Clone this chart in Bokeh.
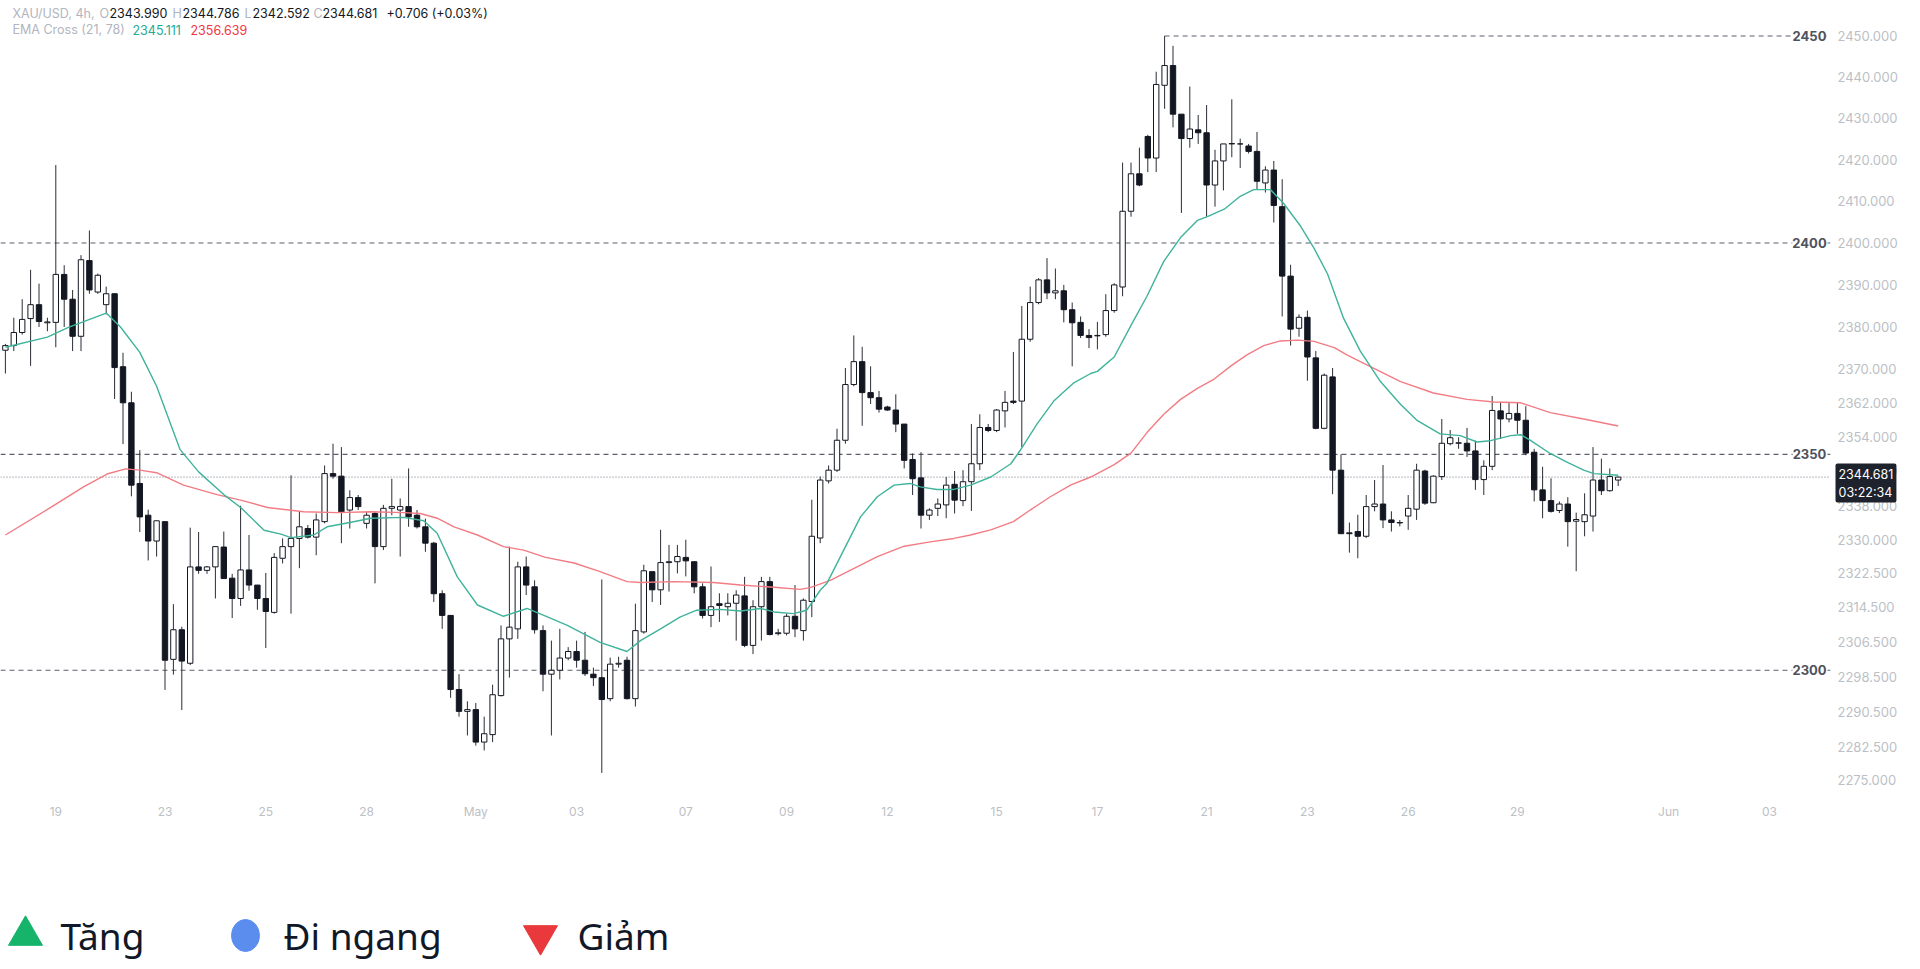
import math
from bokeh.plotting import figure
from bokeh.models import Range1d, FixedTicker, NumeralTickFormatter, Label, ColumnDataSource
from bokeh.layouts import column
from bokeh.embed import file_html
from bokeh.resources import INLINE
from bokeh.core.properties import value

# ---------------- data (XAU/USD 4h) ----------------
opens = [
    2374.5, 2375.6, 2378.7, 2382.0, 2385.3, 2381.0, 2381.1, 2392.5, 2386.6, 2377.8,
    2395.8, 2388.3, 2385.3, 2387.9, 2370.6, 2362.1, 2343.2, 2335.8, 2329.8, 2334.3,
    2302.5, 2309.3, 2301.6, 2323.8, 2323.0, 2323.8, 2328.4, 2321.2, 2316.5, 2323.1,
    2319.6, 2316.5, 2313.3, 2325.8, 2328.5, 2330.4, 2332.7, 2330.7, 2334.3, 2345.5,
    2344.9, 2337.0, 2339.9, 2333.9, 2336.2, 2328.5, 2337.4, 2337.0, 2337.8, 2335.8,
    2333.1, 2329.3, 2317.6, 2312.6, 2295.6, 2290.6, 2291.0, 2283.6, 2285.3, 2294.2,
    2307.2, 2309.5, 2323.8, 2319.2, 2309.1, 2299.1, 2300.0, 2302.8, 2304.3, 2302.3,
    2299.1, 2298.3, 2293.5, 2301.4, 2302.3, 2293.5, 2308.8, 2322.7, 2318.5, 2324.8,
    2325.0, 2326.0, 2325.0, 2319.2, 2312.6, 2315.3, 2314.6, 2315.4, 2317.1, 2305.7,
    2314.6, 2320.4, 2308.4, 2308.5, 2312.4, 2309.1, 2315.8, 2330.5, 2343.8, 2346.3,
    2353.3, 2366.4, 2371.8, 2364.5, 2363.3, 2361.1, 2360.4, 2357.1, 2348.8, 2344.5,
    2335.8, 2337.4, 2338.2, 2343.0, 2339.2, 2343.6, 2347.8, 2356.3, 2355.6, 2360.2,
    2362.5, 2362.5, 2377.1, 2385.8, 2391.2, 2388.1, 2388.6, 2384.1, 2381.1, 2378.0,
    2377.9, 2378.2, 2383.9, 2389.5, 2407.6, 2416.6, 2425.6, 2420.4, 2438.0, 2442.8,
    2431.0, 2425.1, 2427.2, 2426.5, 2413.9, 2419.7, 2423.8, 2423.8, 2423.3, 2422.0,
    2414.4, 2417.5, 2408.7, 2392.1, 2379.7, 2382.3, 2372.7, 2356.1, 2368.2, 2346.3,
    2331.7, 2332.0, 2330.9, 2337.8, 2338.4, 2334.7, 2334.1, 2335.6, 2337.2, 2346.1,
    2338.7, 2344.8, 2352.5, 2352.6, 2352.6, 2350.8, 2344.1, 2347.2, 2360.2, 2358.3,
    2359.6, 2358.0, 2350.5, 2341.7, 2339.2, 2336.9, 2338.4, 2334.4, 2334.3, 2335.6,
    2344.0, 2341.5, 2343.99,
]
highs = [
    2376.0, 2382.2, 2386.6, 2393.6, 2390.3, 2382.2, 2418.7, 2394.7, 2388.8, 2397.1,
    2403.0, 2392.7, 2389.6, 2388.0, 2373.9, 2364.7, 2351.0, 2337.1, 2334.5, 2334.3,
    2315.2, 2310.0, 2332.9, 2331.9, 2324.0, 2328.5, 2332.0, 2322.2, 2338.0, 2331.2,
    2319.6, 2322.4, 2327.0, 2330.4, 2345.1, 2336.6, 2333.5, 2336.2, 2347.4, 2352.5,
    2351.7, 2341.6, 2340.5, 2336.6, 2336.6, 2338.2, 2344.3, 2339.7, 2346.7, 2337.0,
    2335.0, 2329.6, 2318.4, 2312.6, 2299.1, 2292.9, 2292.5, 2289.4, 2296.7, 2310.3,
    2328.5, 2325.0, 2326.2, 2320.7, 2310.3, 2306.8, 2309.5, 2305.3, 2306.8, 2308.8,
    2300.6, 2320.9, 2302.9, 2303.1, 2303.1, 2315.3, 2324.3, 2322.7, 2332.4, 2328.9,
    2328.9, 2330.1, 2325.0, 2320.0, 2323.9, 2317.7, 2317.7, 2318.4, 2321.5, 2316.1,
    2321.5, 2321.5, 2309.5, 2313.0, 2319.6, 2316.5, 2339.4, 2344.8, 2347.4, 2356.0,
    2370.3, 2378.0, 2375.3, 2370.7, 2364.9, 2361.4, 2364.1, 2357.1, 2350.2, 2350.5,
    2337.4, 2339.7, 2344.7, 2346.1, 2346.3, 2357.1, 2359.4, 2357.1, 2360.6, 2364.9,
    2374.1, 2385.0, 2389.6, 2391.6, 2396.4, 2393.9, 2390.0, 2385.8, 2382.5, 2379.5,
    2381.2, 2387.8, 2390.4, 2419.3, 2419.3, 2422.9, 2426.0, 2441.3, 2450.0, 2447.6,
    2431.0, 2437.7, 2430.8, 2433.2, 2422.4, 2423.8, 2434.6, 2425.1, 2423.8, 2426.7,
    2418.4, 2419.7, 2415.3, 2394.8, 2383.0, 2383.9, 2374.3, 2369.0, 2370.3, 2350.0,
    2334.1, 2335.9, 2340.5, 2344.0, 2347.5, 2336.7, 2334.7, 2340.5, 2347.8, 2346.4,
    2345.1, 2358.3, 2355.7, 2354.0, 2356.2, 2353.2, 2348.6, 2363.7, 2362.3, 2362.3,
    2362.1, 2361.3, 2351.3, 2347.1, 2344.4, 2339.0, 2340.0, 2336.4, 2340.9, 2351.7,
    2349.0, 2346.7, 2344.786,
]
lows = [
    2369.0, 2374.3, 2378.2, 2370.8, 2380.0, 2379.0, 2375.2, 2380.0, 2374.3, 2374.3,
    2387.9, 2387.9, 2383.0, 2363.0, 2352.4, 2340.2, 2331.9, 2325.3, 2326.2, 2295.5,
    2299.0, 2290.9, 2301.2, 2322.2, 2322.2, 2316.5, 2321.1, 2312.0, 2314.8, 2318.3,
    2313.9, 2305.1, 2313.0, 2324.6, 2313.0, 2323.5, 2330.4, 2326.5, 2333.9, 2344.3,
    2329.3, 2332.7, 2337.0, 2332.7, 2320.0, 2327.7, 2335.8, 2326.2, 2333.1, 2332.7,
    2327.3, 2315.7, 2309.5, 2293.7, 2289.4, 2285.1, 2282.8, 2281.7, 2283.6, 2294.0,
    2298.3, 2307.2, 2317.3, 2308.4, 2295.2, 2285.1, 2297.9, 2302.3, 2300.6, 2298.7,
    2296.4, 2276.6, 2292.9, 2300.6, 2293.3, 2291.7, 2308.4, 2315.7, 2315.0, 2318.1,
    2322.3, 2321.6, 2317.7, 2311.9, 2309.9, 2311.1, 2312.6, 2306.8, 2305.3, 2303.7,
    2306.8, 2308.0, 2308.0, 2308.0, 2307.6, 2306.8, 2312.2, 2329.3, 2343.2, 2345.9,
    2352.5, 2366.0, 2356.7, 2361.8, 2359.8, 2360.2, 2355.2, 2346.7, 2340.5, 2332.7,
    2334.7, 2335.6, 2335.1, 2336.2, 2337.9, 2336.8, 2346.3, 2355.2, 2355.2, 2356.3,
    2361.8, 2351.7, 2376.5, 2385.4, 2386.6, 2386.6, 2381.1, 2370.7, 2377.4, 2375.0,
    2374.7, 2377.7, 2383.4, 2387.3, 2406.3, 2413.6, 2417.0, 2417.0, 2432.3, 2427.8,
    2407.2, 2422.9, 2423.8, 2406.3, 2408.7, 2412.6, 2420.6, 2418.0, 2421.5, 2412.8,
    2412.1, 2404.9, 2382.5, 2375.6, 2377.7, 2367.3, 2355.9, 2355.9, 2340.7, 2331.5,
    2327.1, 2325.8, 2330.5, 2336.7, 2332.8, 2332.0, 2333.2, 2332.4, 2334.7, 2338.2,
    2338.6, 2344.0, 2352.1, 2351.3, 2349.4, 2341.7, 2340.5, 2346.3, 2353.6, 2357.5,
    2354.8, 2349.8, 2339.0, 2335.1, 2336.4, 2336.3, 2328.5, 2322.8, 2330.9, 2332.0,
    2340.5, 2341.3, 2342.592,
]
closes = [
    2375.6, 2378.7, 2381.8, 2385.3, 2381.3, 2381.2, 2392.5, 2386.6, 2377.8, 2396.0,
    2388.8, 2392.3, 2387.9, 2370.4, 2362.1, 2342.8, 2335.4, 2329.8, 2334.5, 2302.3,
    2309.3, 2302.1, 2323.8, 2323.0, 2323.8, 2328.5, 2321.1, 2316.5, 2323.1, 2319.6,
    2316.5, 2313.5, 2326.0, 2328.5, 2330.4, 2333.1, 2330.7, 2334.7, 2345.5, 2344.9,
    2336.6, 2339.9, 2337.8, 2335.8, 2328.5, 2337.4, 2337.8, 2337.8, 2335.4, 2333.1,
    2329.3, 2317.6, 2312.6, 2295.6, 2290.6, 2291.0, 2283.6, 2285.5, 2294.4, 2307.2,
    2309.9, 2323.8, 2319.6, 2309.3, 2299.1, 2300.0, 2302.8, 2304.3, 2302.3, 2299.2,
    2298.3, 2293.3, 2301.4, 2301.6, 2293.5, 2309.1, 2322.9, 2318.5, 2324.8, 2325.0,
    2326.2, 2325.2, 2319.2, 2312.6, 2314.6, 2314.9, 2315.4, 2317.3, 2305.7, 2314.6,
    2320.4, 2308.2, 2308.6, 2312.4, 2309.5, 2316.1, 2330.9, 2344.0, 2346.3, 2353.3,
    2366.4, 2371.8, 2364.5, 2363.3, 2360.6, 2360.4, 2357.1, 2348.6, 2344.3, 2335.8,
    2337.0, 2338.4, 2342.8, 2339.3, 2343.6, 2347.8, 2356.3, 2355.6, 2360.4, 2362.2,
    2362.2, 2377.1, 2385.8, 2391.2, 2388.1, 2388.6, 2384.1, 2381.0, 2378.0, 2377.5,
    2378.0, 2383.9, 2390.0, 2407.6, 2416.6, 2413.9, 2420.4, 2438.2, 2442.8, 2431.0,
    2425.1, 2427.4, 2426.5, 2413.9, 2419.7, 2423.8, 2423.9, 2423.8, 2422.0, 2414.8,
    2417.5, 2409.0, 2392.1, 2379.5, 2382.3, 2372.9, 2356.1, 2368.6, 2346.3, 2331.5,
    2331.5, 2330.9, 2337.8, 2338.4, 2334.7, 2334.1, 2334.0, 2337.4, 2346.3, 2338.6,
    2344.9, 2352.6, 2353.9, 2352.7, 2350.8, 2344.1, 2347.2, 2360.3, 2358.3, 2359.6,
    2358.0, 2350.3, 2341.7, 2339.2, 2336.7, 2338.4, 2334.3, 2334.8, 2335.9, 2344.0,
    2341.5, 2344.8, 2344.681,
]

# EMA readings (bar position, value)
ema21_x = [0, 5, 7.5, 12, 13.7, 16, 18, 20.8, 23, 26, 28, 30.8, 32.8, 34, 36.7, 38.3, 41, 43.5,
           47.4, 49.8, 51.4, 53.8, 56.2, 59.3, 62.1, 64.1, 66.9, 70.8, 74, 75.6, 78, 80.3, 82.3,
           85.1, 87.5, 89.9, 91.5, 93.8, 95.4, 97, 97.8, 99.8, 101.8, 103.8, 105.8, 107.7, 108.9,
           110.9, 112.9, 114.9, 117.3, 119.7, 120.8, 122.8, 124.8, 127.2, 129.2, 130, 132, 134,
           135.9, 137.9, 139.9, 141.9, 143.1, 145.1, 147, 148.6, 150.6, 152.2, 154.2, 155.8,
           157.4, 159.3, 161.3, 163.7, 166.1, 168.1, 170.8, 173.2, 175.2, 176.8, 179.2, 180.4,
           181.6, 183.9, 185.9, 187.9, 189.1, 192]
ema21_y = [2375.2, 2377.6, 2379.9, 2383.3, 2380.0, 2374.0, 2366.0, 2351.1, 2345.9, 2340.6, 2337.6,
           2332.3, 2331.4, 2330.6, 2331.2, 2333.1, 2334.1, 2335.1, 2335.3, 2334.5, 2331.6, 2321.5,
           2315.0, 2312.4, 2314.2, 2312.6, 2310.3, 2306.4, 2304.3, 2306.8, 2309.5, 2312.2, 2313.8,
           2314.0, 2313.6, 2314.2, 2313.4, 2313.0, 2313.8, 2318.4, 2320.0, 2327.7, 2335.4, 2340.1,
           2342.8, 2343.2, 2342.4, 2341.8, 2341.8, 2342.8, 2344.7, 2347.8, 2350.9, 2357.1, 2362.5,
           2366.8, 2369.0, 2369.5, 2372.9, 2380.4, 2387.3, 2395.6, 2401.3, 2405.4, 2406.3, 2408.1,
           2411.2, 2412.8, 2412.8, 2409.4, 2404.0, 2398.7, 2392.6, 2382.1, 2374.3, 2367.1, 2361.7,
           2357.9, 2354.8, 2354.4, 2352.9, 2353.2, 2354.4, 2354.6, 2353.2, 2350.2, 2348.2, 2346.3,
           2345.5, 2345.111]
ema78_x = [0, 5.4, 9.3, 12.1, 14.3, 16, 18, 21.2, 25.2, 28, 31.2, 35.5, 39.5, 43.5, 47.4, 49.4,
           51.4, 53.4, 56.2, 59.3, 61.7, 64.3, 67.7, 70.8, 74, 75.6, 79.6, 84.3, 87.5, 91.5, 94.6,
           95.8, 98.2, 101.8, 103.8, 107, 110.1, 112.9, 114.9, 117.3, 120, 122, 124.4, 126.8,
           129.2, 132, 134, 135.9, 137.9, 139.9, 141.9, 143.9, 145.9, 147.8, 149.8, 151.8, 153.8,
           155.8, 158.2, 159.7, 161.3, 166.1, 170, 174, 177.2, 180.4, 181.6, 183.9, 187.9, 192]
ema78_y = [2331.2, 2337.6, 2342.4, 2345.4, 2346.6, 2346.3, 2345.7, 2342.8, 2340.6, 2339.3, 2337.6,
           2336.6, 2336.4, 2336.6, 2336.4, 2336.2, 2335.1, 2333.1, 2331.2, 2328.5, 2327.7, 2326.0,
           2324.7, 2322.7, 2320.4, 2320.2, 2320.4, 2320.2, 2319.6, 2319.1, 2318.6, 2319.0, 2320.7,
           2324.2, 2326.2, 2328.6, 2329.6, 2330.4, 2331.2, 2332.4, 2334.3, 2337.0, 2340.1, 2342.8,
           2344.7, 2347.6, 2350.3, 2355.1, 2359.4, 2362.9, 2365.5, 2367.7, 2370.8, 2373.4, 2375.6,
           2376.7, 2376.9, 2376.6, 2375.1, 2373.4, 2371.8, 2367.1, 2364.4, 2362.9, 2362.3, 2362.1,
           2361.3, 2359.8, 2358.3, 2356.639]

level_prices = [2450, 2400, 2350, 2300]
level_labels = ["2450", "2400", "2350", "2300"]
peak_bar = 138
last_price = 2344.681
countdown = "03:22:34"

price_ticks = [2450, 2440, 2430, 2420, 2410, 2400, 2390, 2380, 2370, 2362, 2354, 2346,
               2338, 2330, 2322.5, 2314.5, 2306.5, 2298.5, 2290.5, 2282.5, 2275]
date_ticks = [6, 19, 31, 43, 56, 68, 81, 93, 105, 118, 130, 143, 155, 167, 180, 198, 210]
date_labels = ["19", "23", "25", "28", "May", "03", "07", "09", "12", "15", "17", "21",
               "23", "26", "29", "Jun", "03"]

legend_labels = ["Tăng", "Đi ngang", "Giảm"]
legend_colors = ["#16b46b", "#5b8def", "#e9393c"]

# ---------------- geometry helpers ----------------
SPACING = 8.4          # px per bar
X_OFF = 4.9            # px of bar 0 from frame left
FRAME_W = 1830
FRAME_H = 795
MAIN_H = 880
BOTTOM = MAIN_H - FRAME_H
PX_PER_LN = 10039.0
REF_PRICE, REF_PY = 2450.0, 35.5

xs = -X_OFF / SPACING
xe = xs + FRAME_W / SPACING


def dx(px):
    return xs + px / SPACING


def dy(py):
    return REF_PRICE * math.exp(-(py - REF_PY) / PX_PER_LN)


def py_of(price):
    return REF_PY + PX_PER_LN * math.log(REF_PRICE / price)


p = figure(width=1920, height=MAIN_H, x_range=Range1d(xs, xe),
           y_range=Range1d(dy(FRAME_H), dy(0)),
           y_axis_type="log", y_axis_location="right", output_backend="svg",
           toolbar_location=None, min_border_left=0, min_border_top=0,
           min_border_right=1920 - FRAME_W, min_border_bottom=BOTTOM)
p.xgrid.visible = False
p.ygrid.visible = False
p.outline_line_color = None
p.background_fill_color = "white"
p.border_fill_color = "white"

# axes
p.yaxis.ticker = FixedTicker(ticks=price_ticks)
p.yaxis.formatter = NumeralTickFormatter(format="0.000")
p.yaxis.axis_line_color = None
p.yaxis.major_tick_line_color = None
p.yaxis.minor_tick_line_color = None
p.yaxis.major_tick_out = 0
p.yaxis.major_label_standoff = 7
p.yaxis.major_label_text_font = "Inter"
p.yaxis.major_label_text_font_size = "13px"
p.yaxis.major_label_text_color = "#bcbfc6"

p.xaxis.ticker = FixedTicker(ticks=date_ticks)
p.xaxis.major_label_overrides = {t: l for t, l in zip(date_ticks, date_labels)}
p.xaxis.axis_line_color = None
p.xaxis.major_tick_line_color = None
p.xaxis.minor_tick_line_color = None
p.xaxis.major_tick_out = 0
p.xaxis.major_label_standoff = 8
p.xaxis.major_label_text_font = "Inter"
p.xaxis.major_label_text_font_size = "12px"
p.xaxis.major_label_text_color = "#bcbfc6"

# horizontal levels
for lv in level_prices:
    start = peak_bar if lv == 2450 else xs
    p.segment(x0=[start], y0=[lv], x1=[xe], y1=[lv], line_color="#5d606b",
              line_width=1.2, line_dash="5 4")
p.segment(x0=[xs], y0=[last_price], x1=[xe], y1=[last_price], line_color="#6f7280",
          line_width=1, line_dash="1 2")

# candles
n = len(opens)
bars = list(range(n))
up = [c >= o for o, c in zip(opens, closes)]
src_up = ColumnDataSource(dict(
    x=[b for b, u in zip(bars, up) if u],
    top=[max(o, c) for o, c, u in zip(opens, closes, up) if u],
    bottom=[min(o, c) for o, c, u in zip(opens, closes, up) if u]))
src_dn = ColumnDataSource(dict(
    x=[b for b, u in zip(bars, up) if not u],
    top=[max(o, c) for o, c, u in zip(opens, closes, up) if not u],
    bottom=[min(o, c) for o, c, u in zip(opens, closes, up) if not u]))

p.segment(x0=bars, y0=lows, x1=bars, y1=highs, line_color="#2a2d36", line_width=1)
p.vbar(x="x", top="top", bottom="bottom", width=0.64, source=src_up,
       fill_color="white", line_color="#131722", line_width=1)
p.vbar(x="x", top="top", bottom="bottom", width=0.64, source=src_dn,
       fill_color="#131722", line_color="#131722", line_width=1)

# EMAs
p.line(ema78_x, ema78_y, line_color="#f27c84", line_width=1.4)
p.line(ema21_x, ema21_y, line_color="#3fb39b", line_width=1.4)

# level labels
for lv, lab in zip(level_prices, level_labels):
    p.add_layout(Label(x=dx(1809), y=lv, text=lab, text_align="center", text_baseline="middle",
                       text_font="Inter", text_font_size="13px", text_font_style="bold",
                       text_color="#4f525c", background_fill_color="white"))

# current price box: placed in a side panel so it is not clipped to the frame
p.add_layout(Label(x=dx(1835), y=dy(py_of(last_price) + 6), text=f"{last_price:.3f}\n{countdown}",
                   text_align="left", text_baseline="middle", text_font="Inter",
                   text_font_size="12.5px", text_color="#ffffff",
                   background_fill_color="#1e222d", padding=3, border_radius=2), "below")

# header
GREY = "#b2b5be"
DARK = "#131722"
header = [
    (12, 12.5, "XAU/USD, 4h,", GREY),
    (99, 12.5, "O", GREY), (109, 12.5, "2343.990", DARK),
    (172, 12.5, "H", GREY), (182, 12.5, "2344.786", DARK),
    (244, 12.5, "L", GREY), (252, 12.5, "2342.592", DARK),
    (313, 12.5, "C", GREY), (322, 12.5, "2344.681", DARK),
    (386, 12.5, "+0.706 (+0.03%)", DARK),
    (12, 29, "EMA Cross (21, 78)", GREY),
    (132, 29, "2345.111", "#22ab94"),
    (190, 29, "2356.639", "#f23645"),
]
for hx, hy, t, col in header:
    p.add_layout(Label(x=dx(hx), y=dy(hy), text=t, text_align="left", text_baseline="middle",
                       text_font="Inter", text_font_size="12.5px", text_color=col))

# ---------------- legend strip ----------------
LEG_H = 969 - MAIN_H
q = figure(width=1920, height=LEG_H, x_range=Range1d(0, FRAME_W), y_range=Range1d(0, LEG_H),
           output_backend="svg", toolbar_location=None, min_border=0,
           x_axis_location=None, y_axis_location=None)
q.xgrid.visible = False
q.ygrid.visible = False
q.outline_line_color = None

mark_x = [25, 245, 540]
text_x = [60, 283, 577]
row_y = LEG_H - (935 - MAIN_H)
q.scatter(x=[mark_x[0]], y=[row_y], marker="triangle", size=34, fill_color=legend_colors[0],
          line_color=legend_colors[0])
q.ellipse(x=[mark_x[1]], y=[row_y], width=28, height=32, fill_color=legend_colors[1],
          line_color=legend_colors[1])
q.scatter(x=[mark_x[2]], y=[row_y], marker="inverted_triangle", size=34,
          fill_color=legend_colors[2], line_color=legend_colors[2])
q.text(x=text_x, y=[row_y] * 3, text=legend_labels, text_font=value("Noto Sans"),
       text_font_size="37px", text_baseline="middle", text_align="left", text_color="#111827")

layout = column(p, q, spacing=0)
open("out.html", "w").write(file_html(layout, INLINE))
